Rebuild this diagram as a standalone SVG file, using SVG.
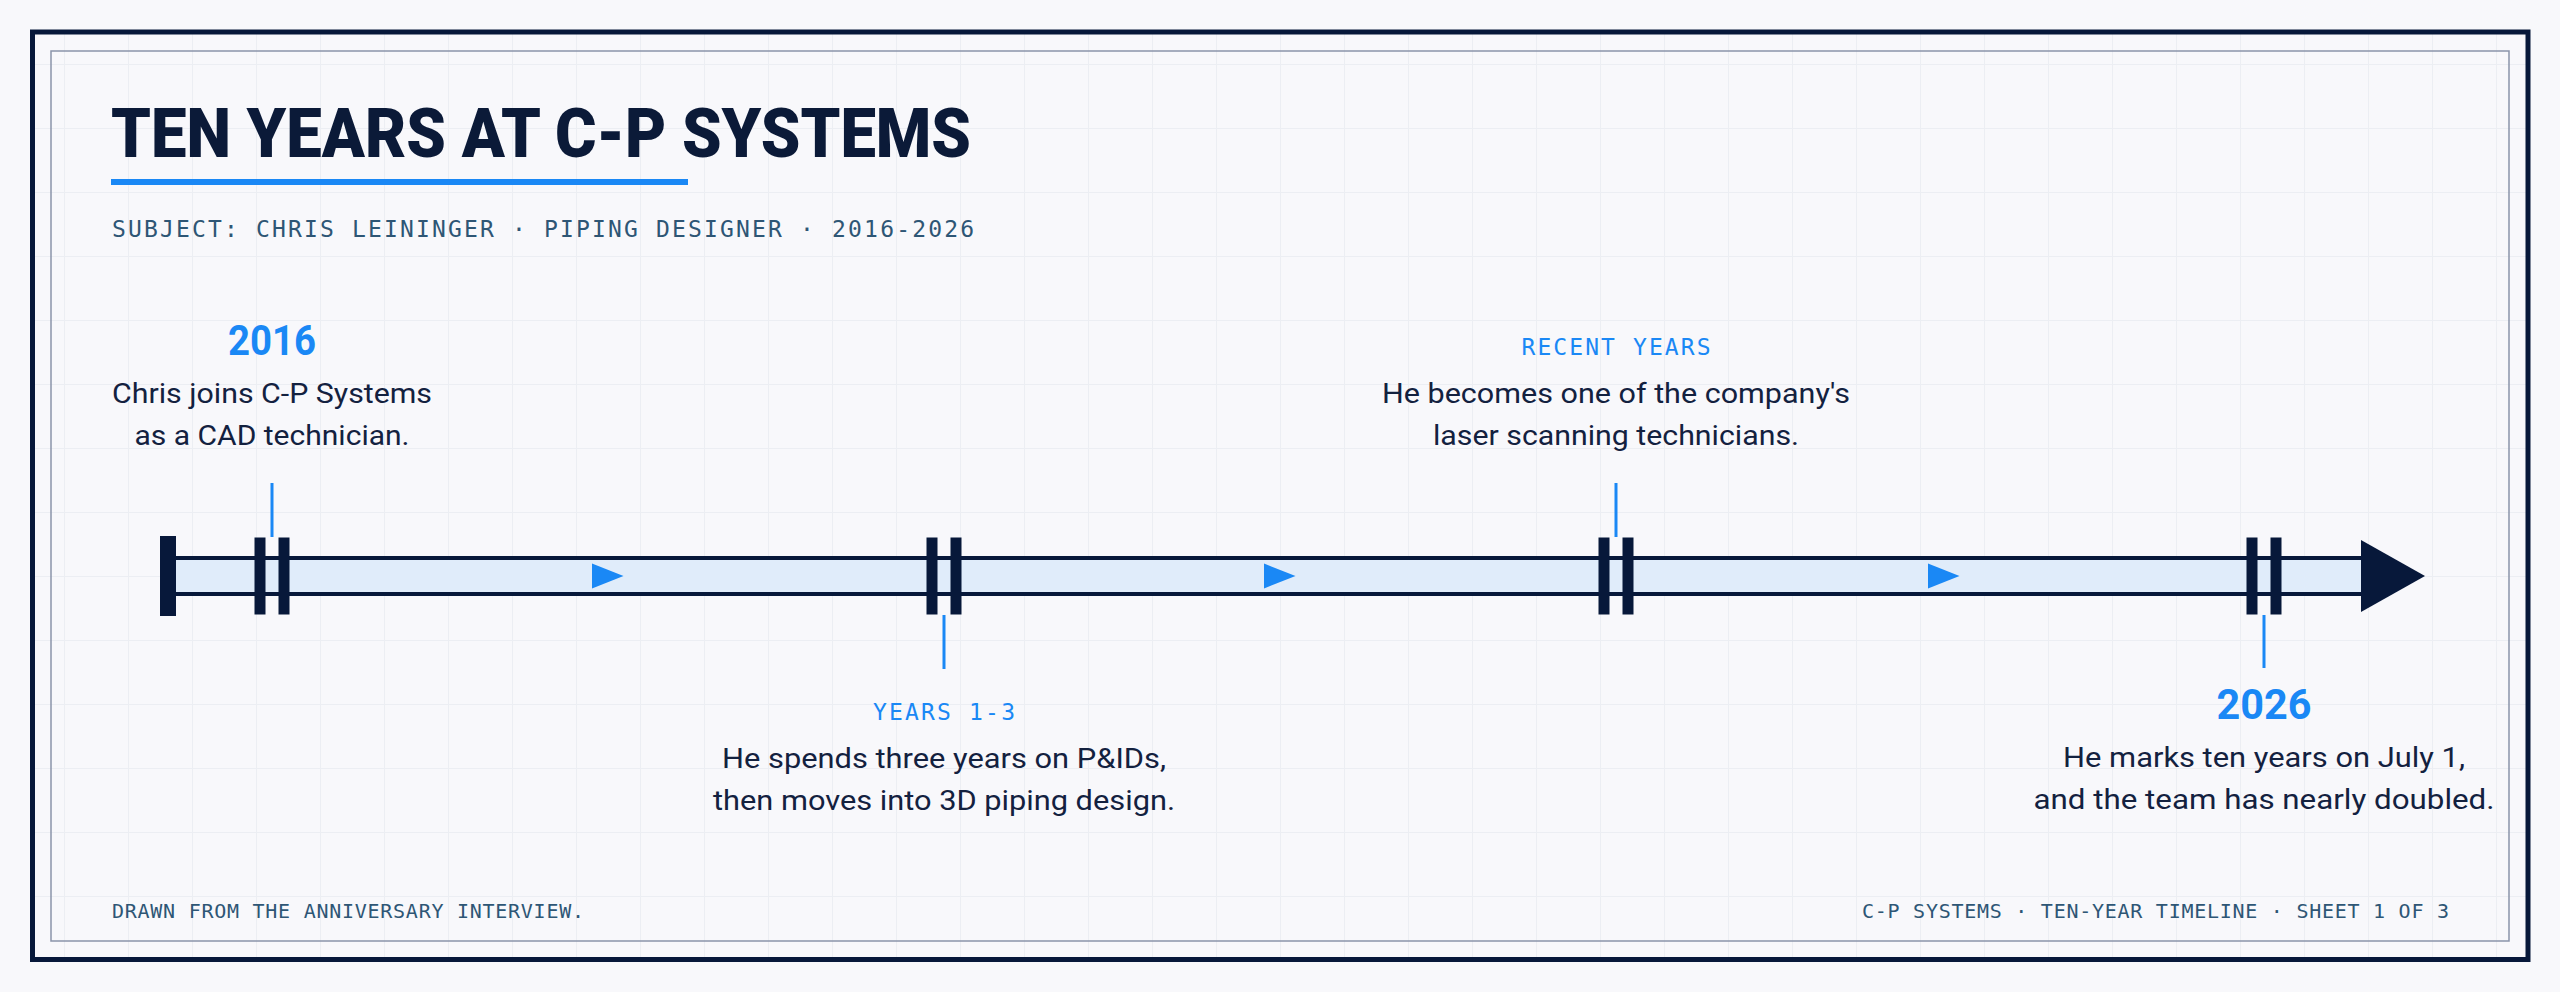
<svg xmlns="http://www.w3.org/2000/svg" width="2560" height="992" viewBox="0 0 2560 992">
  <defs>
    <pattern id="grid" patternUnits="userSpaceOnUse" x="0" y="0" width="64" height="64">
      <path d="M0.5 0 V64 M0 0.5 H64" fill="none" stroke="#eceef3" stroke-width="1.2"/>
    </pattern>
    <style>
      .title { font-family: Roboto, "Liberation Sans", sans-serif; font-weight: 900; font-size: 68px; fill: #0b1a38; }
      .mono { font-family: "DejaVu Sans Mono", "Liberation Mono", monospace; fill: #2e5675; }
      .sub { font-size: 23px; }
      .foot { font-size: 20px; }
      .label { font-family: "DejaVu Sans Mono", "Liberation Mono", monospace; font-size: 23px; fill: #1a88f5; text-anchor: middle; }
      .year { font-family: Roboto, "Liberation Sans", sans-serif; font-weight: 700; font-size: 42px; fill: #1a88f5; text-anchor: middle; }
      .body { font-family: Roboto, "Liberation Sans", sans-serif; font-weight: 400; font-size: 28px; fill: #13213f; text-anchor: middle; }
      .tick { fill: #07183a; }
      .leader { stroke: #1a88f5; stroke-width: 3; }
      .flow { fill: #1a88f5; }
    </style>
  </defs>

  <rect width="2560" height="992" fill="#f8f8fb"/>

  <g id="frame">
    <rect x="32" y="32" width="2496" height="928" fill="url(#grid)"/>
    <rect x="32.5" y="32" width="2495.5" height="927.5" fill="none" stroke="#07183a" stroke-width="5"/>
    <rect x="51" y="51" width="2458" height="890" fill="none" stroke="#8a94aa" stroke-width="1.5"/>
  </g>

  <g id="header">
    <text class="title" x="111" y="157" textLength="860" lengthAdjust="spacingAndGlyphs">TEN YEARS AT C-P SYSTEMS</text>
    <rect x="111" y="179" width="577" height="6" fill="#1a88f5"/>
    <text class="mono sub" x="112" y="237" textLength="862" lengthAdjust="spacing">SUBJECT: CHRIS LEININGER · PIPING DESIGNER · 2016-2026</text>
  </g>

  <g id="connectors">
    <rect x="168" y="558" width="2194" height="36" fill="#e0ecfa"/>
    <line x1="168" y1="558" x2="2362" y2="558" stroke="#07183a" stroke-width="4"/>
    <line x1="168" y1="594" x2="2362" y2="594" stroke="#07183a" stroke-width="4"/>
    <rect x="160" y="536" width="16" height="80" fill="#07183a"/>
    <polygon points="2361,540 2425,576 2361,612" fill="#07183a"/>
    <polygon class="flow" points="592,563.5 623.5,576 592,588.5"/>
    <polygon class="flow" points="1264,563.5 1295.5,576 1264,588.5"/>
    <polygon class="flow" points="1928,563.5 1959.5,576 1928,588.5"/>
  </g>

  <g id="node-2016">
    <rect class="tick" x="254.5" y="537.5" width="11" height="77"/>
    <rect class="tick" x="278.5" y="537.5" width="11" height="77"/>
    <line class="leader" x1="272" y1="483" x2="272" y2="537"/>
    <text class="year" x="272" y="355" textLength="88" lengthAdjust="spacingAndGlyphs">2016</text>
    <text class="body" x="272" y="403" textLength="320" lengthAdjust="spacingAndGlyphs">Chris joins C-P Systems</text>
    <text class="body" x="272" y="445" textLength="275" lengthAdjust="spacingAndGlyphs">as a CAD technician.</text>
  </g>

  <g id="node-years-1-3">
    <rect class="tick" x="926.5" y="537.5" width="11" height="77"/>
    <rect class="tick" x="950.5" y="537.5" width="11" height="77"/>
    <line class="leader" x1="944" y1="615" x2="944" y2="669"/>
    <text class="label" x="944" y="720" textLength="142" lengthAdjust="spacing">YEARS 1-3</text>
    <text class="body" x="944" y="768" textLength="444" lengthAdjust="spacingAndGlyphs">He spends three years on P&amp;IDs,</text>
    <text class="body" x="944" y="810" textLength="462" lengthAdjust="spacingAndGlyphs">then moves into 3D piping design.</text>
  </g>

  <g id="node-recent-years">
    <rect class="tick" x="1598.5" y="537.5" width="11" height="77"/>
    <rect class="tick" x="1622.5" y="537.5" width="11" height="77"/>
    <line class="leader" x1="1616" y1="483" x2="1616" y2="537"/>
    <text class="label" x="1616" y="355" textLength="189" lengthAdjust="spacing">RECENT YEARS</text>
    <text class="body" x="1616" y="403" textLength="468" lengthAdjust="spacingAndGlyphs">He becomes one of the company's</text>
    <text class="body" x="1616" y="445" textLength="366" lengthAdjust="spacingAndGlyphs">laser scanning technicians.</text>
  </g>

  <g id="node-2026">
    <rect class="tick" x="2246.5" y="537.5" width="11" height="77"/>
    <rect class="tick" x="2270.5" y="537.5" width="11" height="77"/>
    <line class="leader" x1="2264" y1="615" x2="2264" y2="668"/>
    <text class="year" x="2264" y="719" textLength="95" lengthAdjust="spacingAndGlyphs">2026</text>
    <text class="body" x="2264" y="767" textLength="402" lengthAdjust="spacingAndGlyphs">He marks ten years on July 1,</text>
    <text class="body" x="2264" y="809" textLength="461" lengthAdjust="spacingAndGlyphs">and the team has nearly doubled.</text>
  </g>

  <g id="footer">
    <text class="mono foot" x="112" y="918" textLength="472" lengthAdjust="spacing">DRAWN FROM THE ANNIVERSARY INTERVIEW.</text>
    <text class="mono foot" x="1862" y="918" textLength="587" lengthAdjust="spacing">C-P SYSTEMS · TEN-YEAR TIMELINE · SHEET 1 OF 3</text>
  </g>
</svg>
